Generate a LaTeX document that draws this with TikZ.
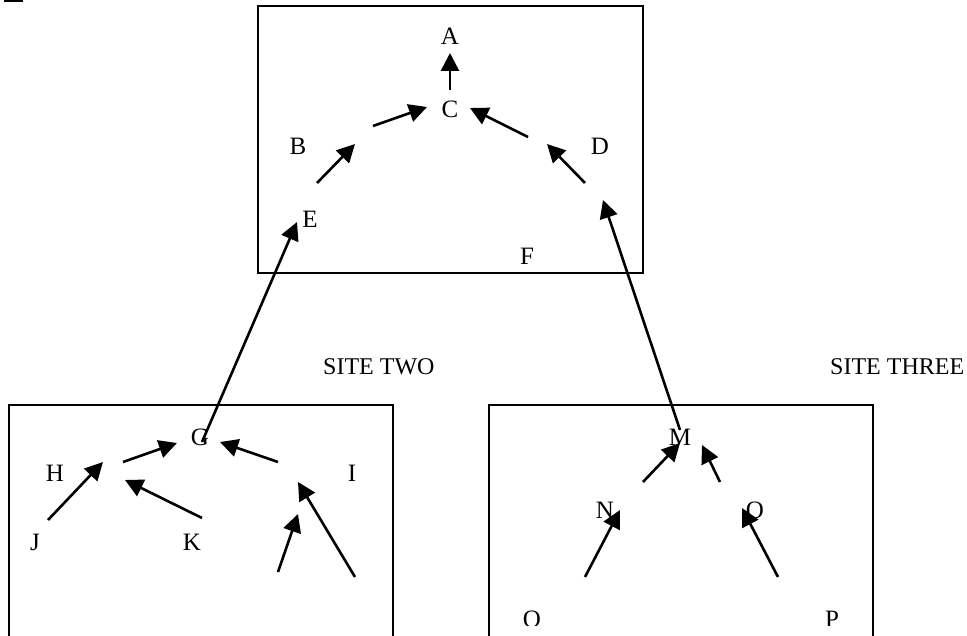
\documentclass[tikz,border=0pt]{standalone}
\usepackage{fontspec}
\setmainfont{Liberation Serif}
\usepackage{tikz}
\usetikzlibrary{arrows.meta, positioning}

\begin{document}
\begin{tikzpicture}[
        x=1pt, y=-1pt,
        lbl/.style={inner sep=0pt, text height=16pt, text depth=0pt, font=\fontsize{25}{29}\selectfont},
        site/.style={inner sep=0pt, anchor=west, font=\fontsize{24}{28}\selectfont},
        sitebox/.style={draw, line width=2pt},
        arr/.style={-{Triangle[length=18pt, width=18pt]}, line width=2.6pt}
    ]
        \clip (0,0) rectangle (967,636);

        % Site boxes
        \draw[sitebox] (258,6) rectangle (643,273);
        \draw[sitebox] (9,405) rectangle (393,660);
        \draw[sitebox] (489,405) rectangle (873,660);
        \draw[line width=2.4pt] (4,0.5) -- (23,0.5);

        \node[site] (s2) at (323,367) {SITE TWO};
        \node[site] (s3) at (830,367) {SITE THREE};

        % Top site labels
        \node[lbl] (A) at (450,37) {A};
        \node[lbl] (C) at (450,110) {C};
        \node[lbl] (B) at (298,147) {B};
        \node[lbl] (D) at (600,147) {D};
        \node[lbl] (E) at (310,220) {E};
        \node[lbl] (F) at (527,257) {F};

        % Site two labels
        \node[lbl] (G) at (200,437) {G};
        \node[lbl] (H) at (55,473) {H};
        \node[lbl] (I) at (352,473) {I};
        \node[lbl] (J) at (35,542) {J};
        \node[lbl] (K) at (192,542) {K};

        % Site three labels
        \node[lbl] (M) at (680,437) {M};
        \node[lbl] (N) at (605,510) {N};
        \node[lbl] (O) at (755,510) {O};
        \begin{scope}
            \clip (0,0) rectangle (967,625);
            \node[lbl] (Q) at (532,619) {Q};
            \node[lbl] (P) at (832,619) {P};
        \end{scope}

        % Arrow ends, top site
        \coordinate (ca0) at (450,90);  \coordinate (ca1) at (450,53);
        \coordinate (bc0) at (373,126); \coordinate (bc1) at (427,107);
        \coordinate (dc0) at (528,137); \coordinate (dc1) at (470,108);
        \coordinate (eb0) at (317,183); \coordinate (eb1) at (355,144);
        \coordinate (fd0) at (585,183); \coordinate (fd1) at (547,144);
        \coordinate (ge0) at (202,442); \coordinate (ge1) at (297,222);
        \coordinate (md0) at (680,430); \coordinate (md1) at (603,200);

        % Arrow ends, site two
        \coordinate (hg0) at (123,462); \coordinate (hg1) at (177,443);
        \coordinate (ig0) at (278,462); \coordinate (ig1) at (220,442);
        \coordinate (jh0) at (48,520);  \coordinate (jh1) at (103,462);
        \coordinate (kh0) at (202,518); \coordinate (kh1) at (125,480);
        \coordinate (li0) at (278,572); \coordinate (li1) at (298,514);
        \coordinate (ri0) at (355,577); \coordinate (ri1) at (298,482);

        % Arrow ends, site three
        \coordinate (nm0) at (643,482); \coordinate (nm1) at (680,443);
        \coordinate (om0) at (720,482); \coordinate (om1) at (702,445);
        \coordinate (qn0) at (585,577); \coordinate (qn1) at (620,510);
        \coordinate (po0) at (778,577); \coordinate (po1) at (742,508);

        % Top site arrows
        \draw[arr] (ca0) -- (ca1);
        \draw[arr] (bc0) -- (bc1);
        \draw[arr] (dc0) -- (dc1);
        \draw[arr] (eb0) -- (eb1);
        \draw[arr] (fd0) -- (fd1);

        % Links between sites
        \draw[arr] (ge0) -- (ge1);
        \draw[arr] (md0) -- (md1);

        % Site two arrows
        \draw[arr] (hg0) -- (hg1);
        \draw[arr] (ig0) -- (ig1);
        \draw[arr] (jh0) -- (jh1);
        \draw[arr] (kh0) -- (kh1);
        \draw[arr] (li0) -- (li1);
        \draw[arr] (ri0) -- (ri1);

        % Site three arrows
        \draw[arr] (nm0) -- (nm1);
        \draw[arr] (om0) -- (om1);
        \draw[arr] (qn0) -- (qn1);
        \draw[arr] (po0) -- (po1);
    \end{tikzpicture}
\end{document}
